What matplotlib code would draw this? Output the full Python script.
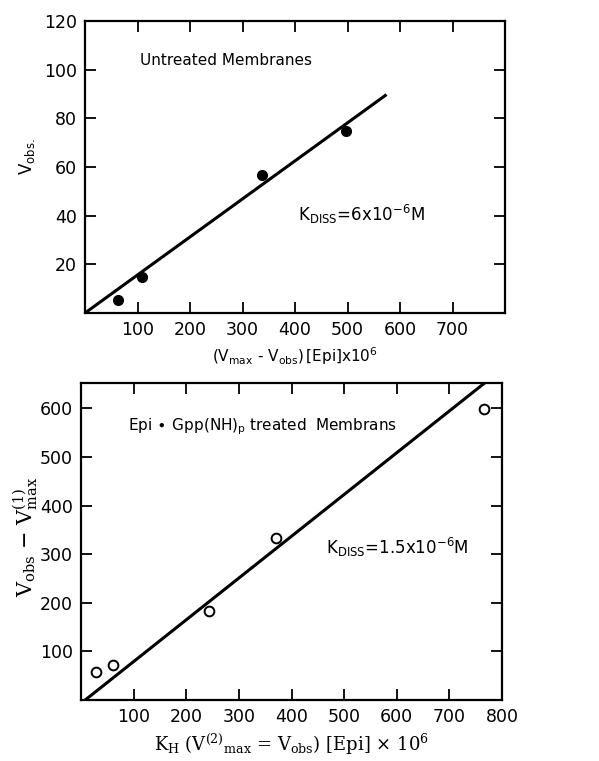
import numpy as np
import matplotlib
matplotlib.use("Agg")
import matplotlib.pyplot as plt

# top panel: untreated membranes
x_top = [62, 108, 338, 498]
y_top = [5.4, 14.6, 56.7, 74.6]
fit_top_x = [0, 572]
fit_top_y = [0, 89.4]

# bottom panel: Epi + Gpp(NH)p treated
x_bot = [28, 60, 244, 370, 765]
y_bot = [58, 73, 184, 334, 598]
fit_bot_x = [8, 767]
fit_bot_y = [0, 652]

top_xticks = [100, 200, 300, 400, 500, 600, 700]
top_yticks = [20, 40, 60, 80, 100, 120]
bot_xticks = [100, 200, 300, 400, 500, 600, 700, 800]
bot_yticks = [100, 200, 300, 400, 500, 600]


def style(ax):
    for s in ax.spines.values():
        s.set_linewidth(1.6)
    ax.tick_params(direction="in", length=8, width=1.3, top=True, right=True,
                   labelsize=12.5, pad=6)


def main():
    fig = plt.figure(figsize=(5.99, 7.61), dpi=100)
    W, H = 599.0, 761.0

    # ---- top ----
    ax1 = fig.add_axes([85 / W, 1 - 313 / H, 420 / W, 292 / H])
    ax1.plot(fit_top_x, fit_top_y, color="black", lw=2.2)
    ax1.plot(x_top, y_top, "o", color="black", ms=7)
    ax1.set_xlim(0, 800)
    ax1.set_ylim(0, 120)
    ax1.set_xticks(top_xticks + [800])
    ax1.set_xticklabels([str(v) for v in top_xticks] + [""])
    ax1.set_yticks(top_yticks)
    style(ax1)
    ax1.set_xlabel(r"$(\mathrm{V_{max}}$ - $\mathrm{V_{obs}})\,[\mathrm{Epi}]$x10$^6$",
                   fontsize=11, labelpad=4, math_fontfamily="dejavusans")
    ax1.set_ylabel(r"V$_{\mathrm{obs.}}$", fontsize=12,
                   math_fontfamily="dejavusans")
    ax1.yaxis.set_label_coords(-0.114, 0.534)
    ax1.text(105, 102, "Untreated Membranes", fontsize=11)
    ax1.text(405, 38, r"K$_{\mathrm{DISS}}$=6x10$^{-6}$M", fontsize=12,
             math_fontfamily="dejavusans")

    # ---- bottom ----
    ax2 = fig.add_axes([81 / W, 1 - 700 / H, 421 / W, 317 / H])
    ax2.plot(fit_bot_x, fit_bot_y, color="black", lw=2.2)
    ax2.plot(x_bot, y_bot, "o", mfc="white", mec="black", mew=1.4, ms=7)
    ax2.set_xlim(0, 800)
    ax2.set_ylim(0, 652)
    ax2.set_xticks(bot_xticks)
    ax2.set_yticks(bot_yticks)
    style(ax2)
    ax2.text(90, 555, r"Epi$\,\bullet\,$Gpp(NH)$_\mathrm{p}$ treated  Membrans", fontsize=11,
             math_fontfamily="dejavusans")
    ax2.text(465, 300, r"K$_{\mathrm{DISS}}$=1.5x10$^{-6}$M", fontsize=12,
             math_fontfamily="dejavusans")
    ax2.set_ylabel(r"$\mathrm{V_{obs}}$ $-$ $\mathrm{V^{(1)}_{max}}$",
                   fontsize=15, family="DejaVu Serif",
                   math_fontfamily="dejavuserif")
    ax2.yaxis.set_label_coords(-0.097, 0.514)
    ax2.set_xlabel(r"$\mathrm{K_H}$ ($\mathrm{V^{(2)}}_{\mathrm{max}}$ = $\mathrm{V_{obs}}$) [Epi] $\times$ 10$^6$",
                   fontsize=13, family="DejaVu Serif", labelpad=4,
                   math_fontfamily="dejavuserif")

    fig.savefig("out.png", dpi=100)


if __name__ == '__main__':
    main()
